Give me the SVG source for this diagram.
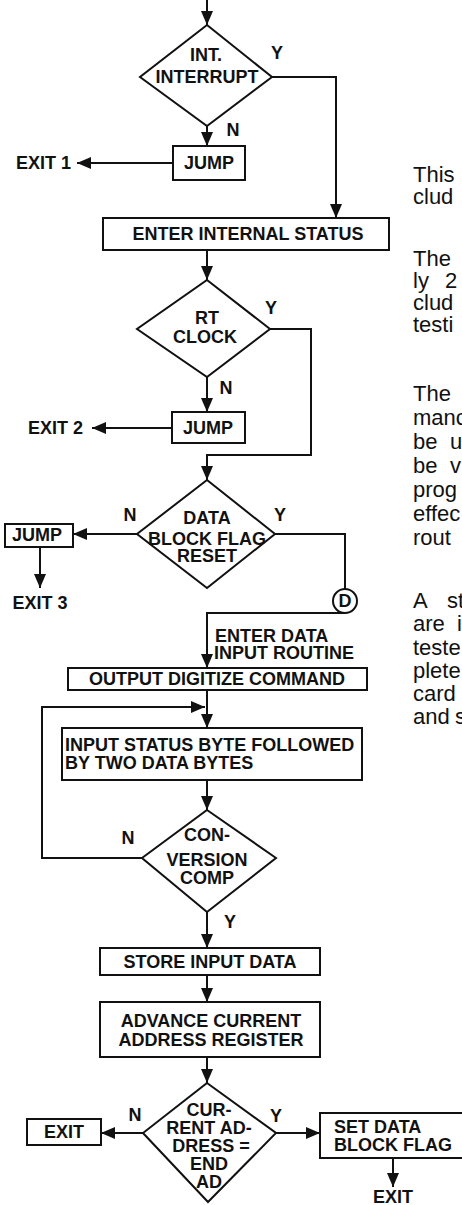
<svg xmlns="http://www.w3.org/2000/svg" width="462" height="1205" viewBox="0 0 462 1205">
<defs>
<marker id="ah" markerUnits="userSpaceOnUse" markerWidth="15" markerHeight="12" refX="14" refY="6" orient="auto"><path d="M0,0 L14,6 L0,12 z" fill="#111"/></marker>
<style>
.s{fill:#fff;stroke:#111;stroke-width:2}
.c{fill:none;stroke:#111;stroke-width:2}
.a{marker-end:url(#ah)}
.t{font-family:"Liberation Sans",Arial,sans-serif;font-weight:bold;font-size:18px;fill:#111;text-anchor:middle}
.l{text-anchor:start}
.e{text-anchor:end}
.p{font-family:"Liberation Sans",Arial,sans-serif;font-size:22px;fill:#111}
</style>
</defs>
<rect width="462" height="1205" fill="#fff"/>
<g id="connectors">
<path class="c a" d="M207,0 V25"/>
<path class="c a" d="M272,77 H336 V218"/>
<path class="c a" d="M207,126 V146"/>
<path class="c a" d="M173,163 H77"/>
<path class="c a" d="M207,250 V280"/>
<path class="c a" d="M270,329 H311 V455 H207 V480"/>
<path class="c a" d="M207,377 V412"/>
<path class="c a" d="M172,428 H92"/>
<path class="c a" d="M137,534 H73"/>
<path class="c a" d="M40,547 V588"/>
<path class="c" d="M275,534 H345 V589"/>
<path class="c a" d="M345,613 H207 V668"/>
<path class="c a" d="M207,690 V728"/>
<path class="c a" d="M142,858 H42 V707 H205"/>
<path class="c a" d="M207,780 V810"/>
<path class="c a" d="M207,912 V948"/>
<path class="c a" d="M207,975 V1002"/>
<path class="c a" d="M207,1057 V1083"/>
<path class="c a" d="M143,1133 H101"/>
<path class="c a" d="M276,1133 H320"/>
<path class="c a" d="M393,1158 V1187"/>
</g>
<g id="n-int-interrupt">
<polygon class="s" points="207,25 272,77 207,126 140,77"/>
<text class="t" x="206" y="61">INT.</text>
<text class="t" x="207" y="83">INTERRUPT</text>
<text class="t" x="277" y="59">Y</text>
<text class="t" x="233" y="136">N</text>
</g>
<g id="n-jump1">
<rect class="s" x="173" y="146" width="72" height="34"/>
<text class="t" x="209" y="169">JUMP</text>
</g>
<g id="n-exit1"><text class="t e" x="71" y="169">EXIT 1</text></g>
<g id="n-enter-internal">
<rect class="s" x="103" y="218" width="286" height="32"/>
<text class="t" x="248" y="240">ENTER INTERNAL STATUS</text>
</g>
<g id="n-rt-clock">
<polygon class="s" points="207,280 270,329 207,377 137,329"/>
<text class="t" x="207" y="324">RT</text>
<text class="t" x="205" y="343">CLOCK</text>
<text class="t" x="271" y="314">Y</text>
<text class="t" x="226" y="394">N</text>
</g>
<g id="n-jump2">
<rect class="s" x="172" y="412" width="73" height="31"/>
<text class="t" x="208" y="434">JUMP</text>
</g>
<g id="n-exit2"><text class="t e" x="83" y="434">EXIT 2</text></g>
<g id="n-data-block">
<polygon class="s" points="207,480 275,534 207,588 137,534"/>
<text class="t" x="207" y="524">DATA</text>
<text class="t" x="207" y="545">BLOCK FLAG</text>
<text class="t" x="207" y="562">RESET</text>
<text class="t" x="130" y="521">N</text>
<text class="t" x="280" y="521">Y</text>
</g>
<g id="n-jump3">
<rect class="s" x="5" y="524" width="68" height="23"/>
<text class="t" x="37" y="541">JUMP</text>
</g>
<g id="n-exit3"><text class="t" x="40" y="609">EXIT 3</text></g>
<g id="n-d">
<circle class="s" cx="345" cy="601" r="12"/>
<text class="t" x="345" y="607">D</text>
</g>
<g id="n-enter-data">
<text class="t l" x="215" y="642">ENTER DATA</text>
<text class="t l" x="214" y="659">INPUT ROUTINE</text>
</g>
<g id="n-output">
<rect class="s" x="68" y="668" width="299" height="22"/>
<text class="t" x="217" y="685">OUTPUT DIGITIZE COMMAND</text>
</g>
<g id="n-input-status">
<rect class="s" x="62" y="728" width="300" height="52"/>
<text class="t l" x="65" y="751">INPUT STATUS BYTE FOLLOWED</text>
<text class="t l" x="65" y="769">BY TWO DATA BYTES</text>
</g>
<g id="n-conversion">
<polygon class="s" points="207,810 276,858 207,912 142,858"/>
<text class="t" x="207" y="841">CON-</text>
<text class="t" x="207" y="866">VERSION</text>
<text class="t" x="207" y="884">COMP</text>
<text class="t" x="128" y="844">N</text>
<text class="t" x="230" y="928">Y</text>
</g>
<g id="n-store">
<rect class="s" x="100" y="948" width="220" height="27"/>
<text class="t" x="210" y="968">STORE INPUT DATA</text>
</g>
<g id="n-advance">
<rect class="s" x="100" y="1002" width="220" height="55"/>
<text class="t" x="211" y="1027">ADVANCE CURRENT</text>
<text class="t" x="211" y="1046">ADDRESS REGISTER</text>
</g>
<g id="n-current-address">
<polygon class="s" points="207,1083 276,1133 208,1202 143,1133"/>
<text class="t" x="209" y="1116">CUR-</text>
<text class="t" x="209" y="1134">RENT AD-</text>
<text class="t" x="211" y="1152">DRESS =</text>
<text class="t" x="209" y="1170">END</text>
<text class="t" x="209" y="1188">AD</text>
<text class="t" x="135" y="1121">N</text>
<text class="t" x="276" y="1122">Y</text>
</g>
<g id="n-exit4">
<rect class="s" x="27" y="1119" width="74" height="26"/>
<text class="t" x="64" y="1138">EXIT</text>
</g>
<g id="n-set-flag">
<rect class="s" x="320" y="1113" width="150" height="45"/>
<text class="t l" x="334" y="1133">SET DATA</text>
<text class="t l" x="334" y="1151">BLOCK FLAG</text>
</g>
<g id="n-exit5"><text class="t" x="393" y="1203">EXIT</text></g>
<g id="side-text" class="p">
<text x="413" y="182">This</text>
<text x="413" y="204">clud</text>
<text x="413" y="266">The</text>
<text x="413" y="288">ly <tspan x="445">2</tspan></text>
<text x="413" y="310">clud</text>
<text x="413" y="332">testi</text>
<text x="413" y="401">The</text>
<text x="413" y="425">manc</text>
<text x="413" y="449">be <tspan x="450">u</tspan></text>
<text x="413" y="473">be <tspan x="450">v</tspan></text>
<text x="413" y="497">prog</text>
<text x="413" y="521">effec</text>
<text x="413" y="545">rout</text>
<text x="413" y="608">A <tspan x="447">st</tspan></text>
<text x="413" y="631">are <tspan x="457">i</tspan></text>
<text x="413" y="655">teste</text>
<text x="413" y="678">plete</text>
<text x="413" y="701">card</text>
<text x="413" y="724">and <tspan x="455">s</tspan></text>
</g>
</svg>
